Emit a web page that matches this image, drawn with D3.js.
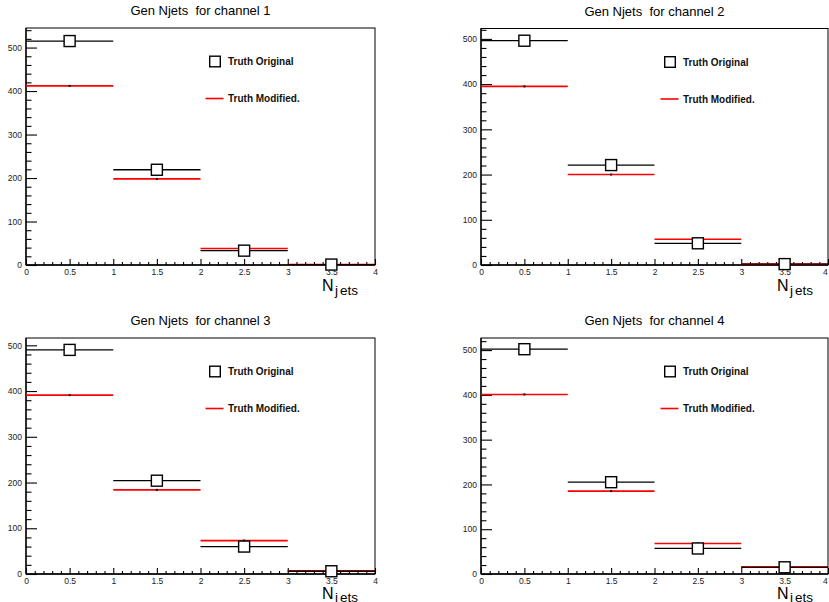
<!DOCTYPE html>
<html>
<head>
<meta charset="utf-8">
<script src="https://cdn.jsdelivr.net/npm/d3@7"></script>
<style>
  html, body { margin: 0; padding: 0; background: #fff; }
  svg { display: block; }
  text { font-family: "Liberation Sans", Arial, Helvetica, sans-serif; white-space: pre; }
</style>
</head>
<body>
<div id="chart"></div>
<script>
// ---- data ----
const binCenters = [0.5, 1.5, 2.5, 3.5];
const binEdges = [0, 1, 2, 3, 4];
const channels = ["1", "2", "3", "4"];
const titles = ["Gen Njets  for channel 1", "Gen Njets  for channel 2", "Gen Njets  for channel 3", "Gen Njets  for channel 4"];
const original1 = [515, 219, 33, 1];
const modified1 = [412, 198, 38, 1];
const original2 = [496, 221, 48, 2];
const modified2 = [395, 200, 57, 2];
const original3 = [490, 204, 60, 6];
const modified3 = [391, 184, 73, 7];
const original4 = [502, 205, 57, 15];
const modified4 = [401, 185, 68, 16];
const yMaxes = [545, 523, 516, 527];
const xTickLabels = ["0", "0.5", "1", "1.5", "2", "2.5", "3", "3.5", "4"];
const legendLabels = ["Truth Original", "Truth Modified."];

const originals = [original1, original2, original3, original4];
const modifieds = [modified1, modified2, modified3, modified4];

// ---- layout ----
const W = 829, H = 602;
const frames = [
  {l: 26,  r: 375, t: 28,   b: 265, xt: 26,   sub: 3.5},
  {l: 481, r: 828, t: 28.5, b: 265, xt: 26,   sub: 3.5},
  {l: 26,  r: 375, t: 338,  b: 574, xt: 24.5, sub: 3},
  {l: 481, r: 828, t: 338,  b: 574, xt: 24.5, sub: 3}
];

const svg = d3.select("#chart").append("svg")
  .attr("width", W).attr("height", H)
  .attr("viewBox", `0 0 ${W} ${H}`);

frames.forEach((f, i) => {
  const g = svg.append("g");
  const x = d3.scaleLinear().domain([0, 4]).range([f.l, f.r]);
  const y = d3.scaleLinear().domain([0, yMaxes[i]]).range([f.b, f.t]);

  // frame
  g.append("rect")
    .attr("x", f.l).attr("y", f.t)
    .attr("width", f.r - f.l).attr("height", f.b - f.t)
    .attr("fill", "#fff").attr("stroke", "#000").attr("stroke-width", 1);

  // title
  g.append("text")
    .attr("x", (f.l + f.r) / 2).attr("y", f.t - 13)
    .attr("text-anchor", "middle")
    .attr("xml:space", "preserve")
    .attr("font-size", 13).attr("fill", "#000")
    .text(titles[i]);

  // y axis
  const yMajor = d3.range(0, yMaxes[i] + 0.001, 100);
  const yMinor = d3.range(0, yMaxes[i] + 0.001, 20).filter(v => v % 100 !== 0);
  const yAx = g.append("g").attr("transform", `translate(${f.l},0)`)
    .call(d3.axisLeft(y).tickValues(yMajor).tickSize(-11).tickPadding(4).tickFormat(d3.format("d")));
  const yAxMin = g.append("g").attr("transform", `translate(${f.l},0)`)
    .call(d3.axisLeft(y).tickValues(yMinor).tickSize(-5.5).tickFormat(""));

  // x axis
  const xMajor = d3.range(0, 4.001, 0.5);
  const xMinor = d3.range(0, 4.001, 0.1).filter(v => Math.abs(v * 2 - Math.round(v * 2)) > 1e-6);
  const xAx = g.append("g").attr("transform", `translate(0,${f.b})`)
    .call(d3.axisBottom(x).tickValues(xMajor).tickSize(-6).tickPadding(3.5)
      .tickFormat((d, k) => xTickLabels[k]));
  const xAxMin = g.append("g").attr("transform", `translate(0,${f.b})`)
    .call(d3.axisBottom(x).tickValues(xMinor).tickSize(-3).tickFormat(""));

  [yAx, yAxMin, xAx, xAxMin].forEach(a => {
    a.select(".domain").remove();
    a.selectAll(".tick line").attr("stroke", "#000").attr("stroke-width", 1.1);
    a.selectAll(".tick text").attr("font-size", 8.5).attr("fill", "#222")
      .attr("font-family", "'Liberation Sans', Arial, sans-serif");
  });
  // keep the last x label inside the canvas
  if (f.r > W - 4) {
    xAx.selectAll(".tick text").filter((d, k) => k === xMajor.length - 1)
      .attr("text-anchor", "end").attr("dx", "-0.1em");
  }

  // axis lines
  g.append("line").attr("x1", f.l).attr("x2", f.r).attr("y1", f.b).attr("y2", f.b)
    .attr("stroke", "#000").attr("stroke-width", 1.3);
  g.append("line").attr("x1", f.l).attr("x2", f.l).attr("y1", f.t).attr("y2", f.b)
    .attr("stroke", "#000").attr("stroke-width", 1.3);

  // x title N_{jets}
  const xt = g.append("text")
    .attr("x", f.l + 296).attr("y", f.b + f.xt)
    .attr("fill", "#000");
  xt.append("tspan").attr("font-size", 16).text("N");
  xt.append("tspan").attr("font-size", 13.5).attr("dx", 1.5).attr("dy", f.sub).text("j");
  xt.append("tspan").attr("font-size", 13.5).attr("dx", 2).text("ets");

  // modified histogram (red)
  const mod = modifieds[i];
  g.selectAll(".modline").data(mod).enter().append("line")
    .attr("x1", (d, k) => x(binEdges[k])).attr("x2", (d, k) => x(binEdges[k + 1]))
    .attr("y1", d => y(d)).attr("y2", d => y(d))
    .attr("stroke", "#ff0000").attr("stroke-width", 1.6);
  g.selectAll(".moddot").data(mod).enter().append("rect")
    .attr("x", (d, k) => x(binCenters[k]) - 1).attr("y", d => y(d) - 1)
    .attr("width", 2).attr("height", 2).attr("fill", "#000");

  // original histogram (black, open squares)
  const org = originals[i];
  const ms = 11;
  g.selectAll(".orgline").data(org).enter().append("line")
    .attr("x1", (d, k) => x(binEdges[k])).attr("x2", (d, k) => x(binEdges[k + 1]))
    .attr("y1", d => y(d)).attr("y2", d => y(d))
    .attr("stroke", "#000").attr("stroke-width", 1.3);
  g.selectAll(".orgmark").data(org).enter().append("rect")
    .attr("x", (d, k) => x(binCenters[k]) - ms / 2).attr("y", d => y(d) - ms / 2)
    .attr("width", ms).attr("height", ms)
    .attr("fill", "#fff").attr("stroke", "#000").attr("stroke-width", 1.4);

  // legend
  const lx = f.l + 189, ly1 = f.t + 33.5, ly2 = f.t + 70.5;
  g.append("rect").attr("x", lx - 5.3).attr("y", ly1 - 5.3).attr("width", 10.6).attr("height", 10.6)
    .attr("fill", "#fff").attr("stroke", "#000").attr("stroke-width", 1.4);
  g.append("line").attr("x1", lx - 9.5).attr("x2", lx + 8.5).attr("y1", ly2).attr("y2", ly2)
    .attr("stroke", "#ff0000").attr("stroke-width", 1.6);
  g.append("text").attr("x", f.l + 202).attr("y", ly1).attr("dy", "0.35em")
    .attr("font-size", 10).attr("font-weight", "bold").attr("fill", "#111").text(legendLabels[0]);
  g.append("text").attr("x", f.l + 202).attr("y", ly2).attr("dy", "0.35em")
    .attr("font-size", 10).attr("font-weight", "bold").attr("fill", "#111").text(legendLabels[1]);
});
</script>
</body>
</html>
